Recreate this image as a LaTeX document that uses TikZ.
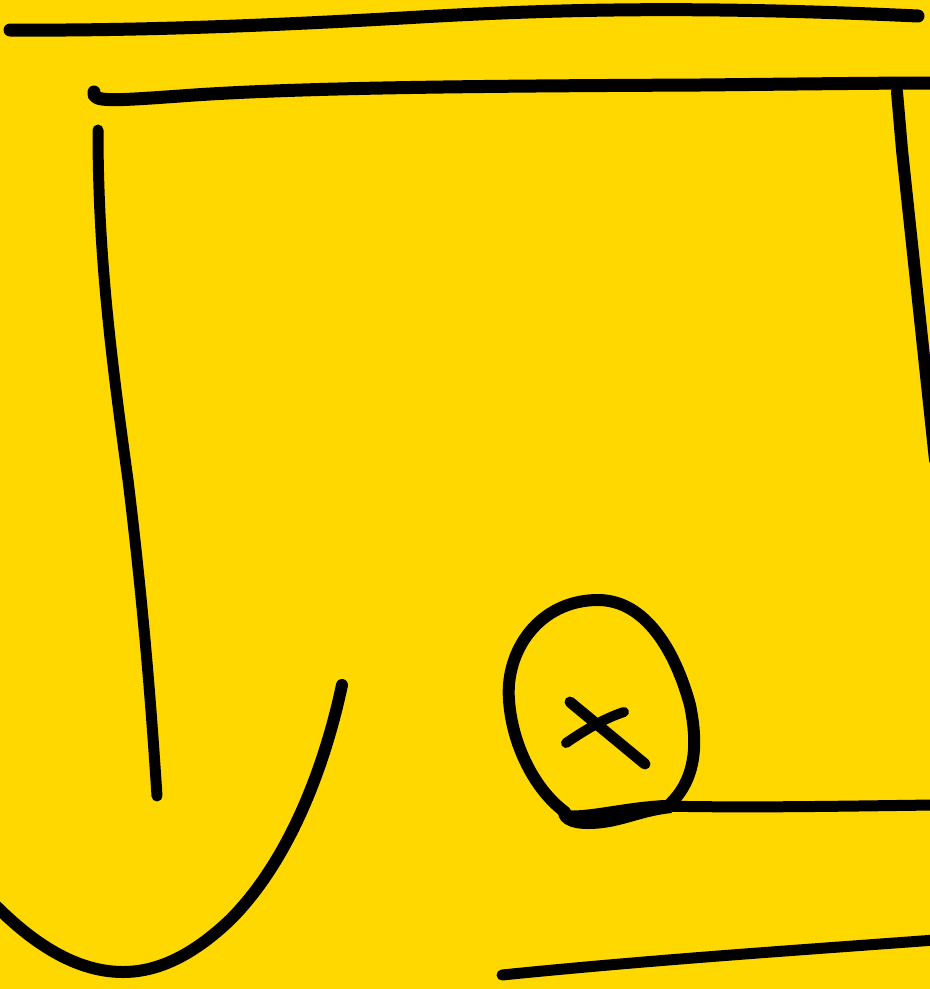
\documentclass[tikz,border=0pt]{standalone}
\usepackage{tikz}
\usetikzlibrary{calc}
\definecolor{sun}{HTML}{FFD800}
\definecolor{ink}{HTML}{000000}
\tikzset{
  pen/.style={draw=ink, line width=#1, line cap=round, line join=round},
  pen/.default=11pt,
  blob/.style={fill=ink, draw=none},
}

\begin{document}
\begin{tikzpicture}[x=1pt, y=-1pt]
        \fill[sun] (0,0) rectangle (930,989);
        \useasboundingbox (0,0) rectangle (930,989);
        % top edge strokes
        \draw[pen=13pt] (10,30) .. controls (150,31) and (300,24) .. (420,17) .. controls (560,9) and (700,6) .. (918,16);
        \draw[pen=13pt] (94,92) .. controls (92,102) and (110,101) .. (180,96) .. controls (300,87) and (500,86) .. (700,85) .. controls (800,84) and (880,83) .. (935,83);
        % right and left uprights
        \draw[pen=12pt] (897,92) -- (902,150) -- (935,460);
        \draw[pen] (98,130) .. controls (98,250) and (110,350) .. (128,480) .. controls (145,620) and (152,720) .. (157,796);
        % big U
        \draw[pen=12pt] (342,685) .. controls (325,765) and (290,860) .. (230,920) .. controls (190,958) and (155,972) .. (123,972) .. controls (70,972) and (25,935) .. (-5,905);
        % oval with the cross
        \coordinate (ovT) at (598,600);
        \draw[pen=12pt] (670,804) .. controls (700,775) and (696,735) .. (690,705) .. controls (675,650) and (645,600) .. (ovT) .. controls (540,600) and (505,650) .. (509,700) .. controls (512,745) and (535,790) .. (565,812);
        \fill[blob] (558,808) .. controls (575,816) and (620,802) .. (665,800) -- (672,813) .. controls (640,816) and (620,829) .. (588,829) .. controls (568,829) and (556,822) .. cycle;
        \draw[pen=11pt] (570,702) -- (645,764);
        \draw[pen=10pt] (566,743) .. controls (585,730) and (605,718) .. (624,712);
        % lower strokes
        \draw[pen] (660,806) .. controls (750,808) and (850,806) .. (935,805);
        \draw[pen] (502,975) .. controls (650,960) and (800,950) .. (935,940);
      \end{tikzpicture}
\end{document}
